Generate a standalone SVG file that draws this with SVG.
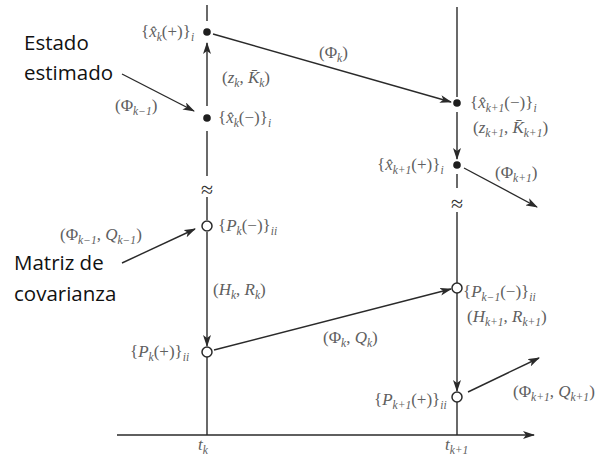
<svg xmlns="http://www.w3.org/2000/svg" width="598" height="456" viewBox="0 0 598 456">
<style>
.ln{stroke:#2a2a2a;stroke-width:1.4;fill:none}
.ar{stroke:#2a2a2a;stroke-width:1.4;fill:none;marker-end:url(#ah)}
.m{font-family:"Liberation Serif","Times New Roman",serif;font-size:17px;fill:#606060}
.it{font-style:italic}
.sb{font-size:11.5px}
.an{font-family:"Open Sans","Liberation Sans",sans-serif;font-size:20.5px;fill:#111}
.dot{fill:#1e1e1e}
.oc{fill:#fff;stroke:#2a2a2a;stroke-width:1.5}
.ap{font-family:"Liberation Serif",serif;font-size:22px;fill:#333}
</style>
<defs>
<marker id="ah" viewBox="0 0 12 8" refX="11" refY="4" markerWidth="12" markerHeight="8" markerUnits="userSpaceOnUse" orient="auto">
<path d="M0,0 L12,4 L0,8 L3,4 Z" fill="#2a2a2a"/>
</marker>
</defs>
<rect width="598" height="456" fill="#fff"/>
<g id="connectors">
<line class="ln" x1="207" y1="5" x2="207" y2="21"/>
<line class="ar" x1="207" y1="106" x2="207" y2="43"/>
<line class="ln" x1="207" y1="131" x2="207" y2="176"/>
<line class="ln" x1="207" y1="197" x2="207" y2="220"/>
<line class="ar" x1="207" y1="232" x2="207" y2="346"/>
<line class="ln" x1="207" y1="357" x2="207" y2="435"/>
<line class="ln" x1="457" y1="7" x2="457" y2="97"/>
<line class="ar" x1="457" y1="112" x2="457" y2="159"/>
<line class="ln" x1="457" y1="174" x2="457" y2="188"/>
<line class="ln" x1="457" y1="212" x2="457" y2="283"/>
<line class="ar" x1="457" y1="293" x2="457" y2="391"/>
<line class="ln" x1="457" y1="402" x2="457" y2="435"/>
<line class="ar" x1="117" y1="435" x2="534" y2="435"/>
<line class="ar" x1="213" y1="34" x2="451" y2="102"/>
<line class="ar" x1="464" y1="168" x2="537" y2="207"/>
<line class="ar" x1="122" y1="74" x2="194" y2="111"/>
<line class="ar" x1="122" y1="263" x2="195" y2="229"/>
<line class="ar" x1="214" y1="350" x2="451" y2="289"/>
<line class="ar" x1="468" y1="392" x2="539" y2="358"/>
</g>
<g id="approx">
<text class="ap" x="207" y="197" text-anchor="middle">≈</text>
<text class="ap" x="457" y="211" text-anchor="middle">≈</text>
</g>
<g id="xk-plus">
<circle class="dot" cx="207" cy="32" r="3.8"/>
<text class="m" x="141" y="37">{<tspan class="it">x̂</tspan><tspan class="it sb" dy="4">k</tspan><tspan dy="-4">(+)}</tspan><tspan class="it sb" dy="4">i</tspan></text>
</g>
<g id="xk-minus">
<circle class="dot" cx="207" cy="118" r="3.8"/>
<text class="m" x="218" y="123">{<tspan class="it">x̂</tspan><tspan class="it sb" dy="4">k</tspan><tspan dy="-4">(−)}</tspan><tspan class="it sb" dy="4">i</tspan></text>
</g>
<g id="pk-minus">
<circle class="oc" cx="207" cy="226" r="5"/>
<text class="m" x="218" y="231">{<tspan class="it">P</tspan><tspan class="it sb" dy="4">k</tspan><tspan dy="-4">(−)}</tspan><tspan class="it sb" dy="4">ii</tspan></text>
</g>
<g id="pk-plus">
<circle class="oc" cx="207" cy="352" r="5"/>
<text class="m" x="130" y="357">{<tspan class="it">P</tspan><tspan class="it sb" dy="4">k</tspan><tspan dy="-4">(+)}</tspan><tspan class="it sb" dy="4">ii</tspan></text>
</g>
<g id="xk1-minus">
<circle class="dot" cx="457" cy="103" r="3.8"/>
<text class="m" x="470" y="108">{<tspan class="it">x̂</tspan><tspan class="it sb" dy="4">k+1</tspan><tspan dy="-4">(−)}</tspan><tspan class="it sb" dy="4">i</tspan></text>
</g>
<g id="xk1-plus">
<circle class="dot" cx="457" cy="165" r="3.8"/>
<text class="m" x="377" y="170">{<tspan class="it">x̂</tspan><tspan class="it sb" dy="4">k+1</tspan><tspan dy="-4">(+)}</tspan><tspan class="it sb" dy="4">i</tspan></text>
</g>
<g id="pk1-minus">
<circle class="oc" cx="457" cy="288" r="5"/>
<text class="m" x="463" y="297">{<tspan class="it">P</tspan><tspan class="it sb" dy="4">k−1</tspan><tspan dy="-4">(−)}</tspan><tspan class="it sb" dy="4">ii</tspan></text>
</g>
<g id="pk1-plus">
<circle class="oc" cx="457" cy="397" r="5"/>
<text class="m" x="374" y="405">{<tspan class="it">P</tspan><tspan class="it sb" dy="4">k+1</tspan><tspan dy="-4">(+)}</tspan><tspan class="it sb" dy="4">ii</tspan></text>
</g>
<g id="labels">
<text class="m" x="222" y="83">(<tspan class="it">z</tspan><tspan class="it sb" dy="4">k</tspan><tspan dy="-4">, </tspan><tspan class="it">K̄</tspan><tspan class="it sb" dy="4">k</tspan><tspan dy="-4">)</tspan></text>
<text class="m" x="115" y="111">(Φ<tspan class="it sb" dy="4">k−1</tspan><tspan dy="-4">)</tspan></text>
<text class="m" x="319" y="58">(Φ<tspan class="it sb" dy="4">k</tspan><tspan dy="-4">)</tspan></text>
<text class="m" x="473" y="133">(<tspan class="it">z</tspan><tspan class="it sb" dy="4">k+1</tspan><tspan dy="-4">, </tspan><tspan class="it">K̄</tspan><tspan class="it sb" dy="4">k+1</tspan><tspan dy="-4">)</tspan></text>
<text class="m" x="495" y="178">(Φ<tspan class="it sb" dy="4">k+1</tspan><tspan dy="-4">)</tspan></text>
<text class="m" x="60" y="240">(Φ<tspan class="it sb" dy="4">k−1</tspan><tspan dy="-4">, </tspan><tspan class="it">Q</tspan><tspan class="it sb" dy="4">k−1</tspan><tspan dy="-4">)</tspan></text>
<text class="m" x="213" y="295">(<tspan class="it">H</tspan><tspan class="it sb" dy="4">k</tspan><tspan dy="-4">, </tspan><tspan class="it">R</tspan><tspan class="it sb" dy="4">k</tspan><tspan dy="-4">)</tspan></text>
<text class="m" x="323" y="343">(Φ<tspan class="it sb" dy="4">k</tspan><tspan dy="-4">, </tspan><tspan class="it">Q</tspan><tspan class="it sb" dy="4">k</tspan><tspan dy="-4">)</tspan></text>
<text class="m" x="467" y="322">(<tspan class="it">H</tspan><tspan class="it sb" dy="4">k+1</tspan><tspan dy="-4">, </tspan><tspan class="it">R</tspan><tspan class="it sb" dy="4">k+1</tspan><tspan dy="-4">)</tspan></text>
<text class="m" x="513" y="397">(Φ<tspan class="it sb" dy="4">k+1</tspan><tspan dy="-4">, </tspan><tspan class="it">Q</tspan><tspan class="it sb" dy="4">k+1</tspan><tspan dy="-4">)</tspan></text>
<text class="m" x="198" y="450"><tspan class="it">t</tspan><tspan class="it sb" dy="4">k</tspan></text>
<text class="m" x="445" y="450"><tspan class="it">t</tspan><tspan class="it sb" dy="4">k+1</tspan></text>
</g>
<g id="annotations">
<text class="an" x="24" y="50">Estado</text>
<text class="an" x="24" y="80">estimado</text>
<text class="an" x="14" y="270">Matriz de</text>
<text class="an" x="14" y="301">covarianza</text>
</g>
</svg>
